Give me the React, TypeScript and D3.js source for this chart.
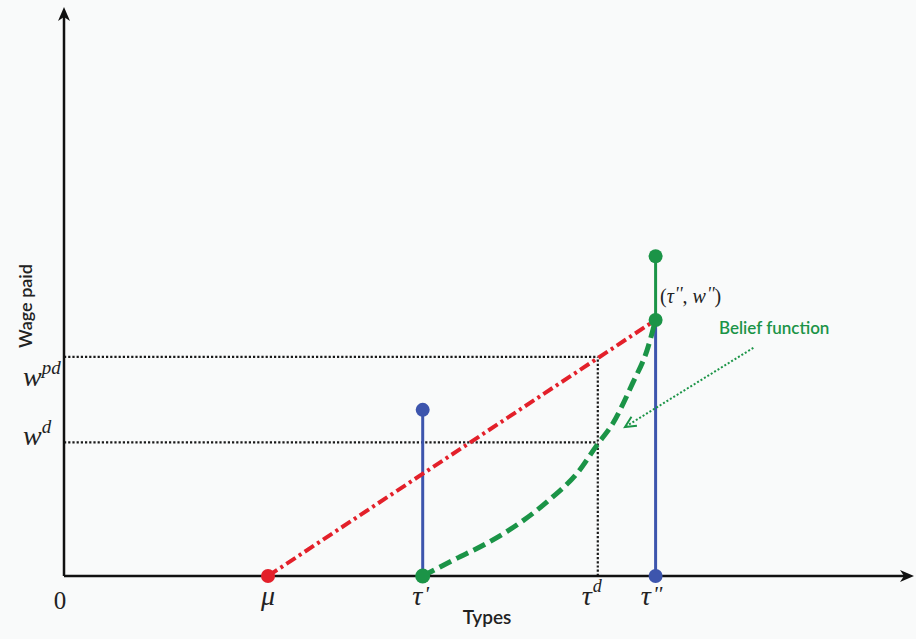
import React from "react";
import * as d3 from "d3";

const W = 916;
const H = 639;

// Data (in chart units: x 0–100 "Types", y 0–100 "Wage paid")
const mu = 24.0;
const tauPrime = 42.2;
const tauD = 62.8;
const tauPP = 69.6;
const wPP = 45.0;
const greenTop = 56.2;
const blueTauPrimeTop = 29.2;
const wPD = 38.5;
const wD = 23.5;

const beliefX = [42.2, 45.8, 49.8, 53.6, 57.5, 60.4, 62.7, 64.6, 66.9, 68.6, 69.6];
const beliefY = [0, 2.8, 5.8, 9.3, 13.9, 18.1, 23.0, 26.9, 33.9, 39.7, 45.0];

const beliefArrowFrom = [81.1, 40.1];
const beliefArrowTo = [66.0, 26.2];

const RED = "#e3202a";
const GREEN = "#1b9447";
const BLUE = "#3d55ad";

export default function App() {
  const x = d3.scaleLinear().domain([0, 100]).range([64, 914]);
  const y = d3.scaleLinear().domain([0, 100]).range([576, 7]);

  const beliefLine = d3
    .line<number>()
    .x((_, i) => x(beliefX[i]))
    .y((d) => y(d))
    .curve(d3.curveMonotoneX)(beliefY) as string;

  const redLine = d3.line<[number, number]>().x((d) => x(d[0])).y((d) => y(d[1]))([
    [mu, 0],
    [tauPP, wPP],
  ]) as string;

  const serif = "'Liberation Serif', 'DejaVu Serif', serif";
  const sans = "Lato, 'Open Sans', sans-serif";

  const ax0 = x(0);
  const ay0 = y(0);

  const fx = x(beliefArrowFrom[0]);
  const fy = y(beliefArrowFrom[1]);
  const tx = x(beliefArrowTo[0]);
  const ty = y(beliefArrowTo[1]);
  const ang = Math.atan2(ty - fy, tx - fx);
  const hl = 12;
  const hw = 0.45;
  const h1 = [tx - hl * Math.cos(ang - hw), ty - hl * Math.sin(ang - hw)];
  const h2 = [tx - hl * Math.cos(ang + hw), ty - hl * Math.sin(ang + hw)];

  const tickLabels = [
    { v: mu, main: "μ", sup: "", dx: 0 },
    { v: tauPrime, main: "τ", sup: "'", dx: -2 },
    { v: tauD, main: "τ", sup: "d", dx: -6 },
    { v: tauPP, main: "τ", sup: "''", dx: -4 },
  ];

  const dotted = { stroke: "#1a1a1a", strokeWidth: 2.2, strokeDasharray: "2.2,2" };

  return (
    <svg
      width={W}
      height={H}
      style={{ position: "absolute", left: 0, top: 0, background: "#f9fafa" }}
    >
      <rect x={0} y={0} width={W} height={H} fill="#f9fafa" />

      {/* dotted guides */}
      <line x1={ax0} y1={y(wPD)} x2={x(tauD)} y2={y(wPD)} {...dotted} />
      <line x1={ax0} y1={y(wD)} x2={x(tauD)} y2={y(wD)} {...dotted} />
      <line x1={x(tauD)} y1={ay0} x2={x(tauD)} y2={y(wPD)} {...dotted} />

      {/* blue stems */}
      <line x1={x(tauPrime)} y1={ay0} x2={x(tauPrime)} y2={y(blueTauPrimeTop)} stroke={BLUE} strokeWidth={3} />
      <line x1={x(tauPP)} y1={ay0} x2={x(tauPP)} y2={y(wPP)} stroke={BLUE} strokeWidth={3} />
      {/* green stem */}
      <line x1={x(tauPP)} y1={y(wPP)} x2={x(tauPP)} y2={y(greenTop)} stroke={GREEN} strokeWidth={3} />

      {/* red dash-dot line */}
      <path d={redLine} fill="none" stroke={RED} strokeWidth={4} strokeDasharray="11,4,3,4" />

      {/* belief function */}
      <path d={beliefLine} fill="none" stroke={GREEN} strokeWidth={5} strokeDasharray="13,6" />

      {/* belief pointer */}
      <line x1={fx} y1={fy} x2={tx} y2={ty} stroke={GREEN} strokeWidth={2} strokeDasharray="2,2" />
      <polyline
        points={`${h1[0]},${h1[1]} ${tx},${ty} ${h2[0]},${h2[1]}`}
        fill="none"
        stroke={GREEN}
        strokeWidth={2}
      />

      {/* axes */}
      <line x1={ax0} y1={ay0} x2={x(99.2)} y2={ay0} stroke="#111" strokeWidth={2.5} />
      <line x1={ax0} y1={ay0} x2={ax0} y2={y(98.5)} stroke="#111" strokeWidth={2.5} />
      <path d={`M${x(100)},${ay0} L${x(100) - 14},${ay0 - 6} L${x(100) - 10},${ay0} L${x(100) - 14},${ay0 + 6} Z`} fill="#111" />
      <path d={`M${ax0},${y(100)} L${ax0 - 6},${y(100) + 14} L${ax0},${y(100) + 10} L${ax0 + 6},${y(100) + 14} Z`} fill="#111" />

      {/* dots */}
      <circle cx={x(mu)} cy={ay0} r={7} fill={RED} />
      <circle cx={x(tauPrime)} cy={y(blueTauPrimeTop)} r={7} fill={BLUE} />
      <circle cx={x(tauPrime)} cy={ay0} r={7.5} fill={GREEN} />
      <circle cx={x(tauPP)} cy={ay0} r={7} fill={BLUE} />
      <circle cx={x(tauPP)} cy={y(wPP)} r={7} fill={GREEN} />
      <circle cx={x(tauPP)} cy={y(greenTop)} r={7} fill={GREEN} />

      {/* origin */}
      <text x={ax0 - 4} y={609} fontFamily={serif} fontSize={25} textAnchor="middle" fill="#222">0</text>

      {/* x tick labels */}
      {tickLabels.map((t, i) => (
        <text key={i} x={x(t.v) + t.dx} y={605} fontFamily={serif} fontStyle="italic" fontSize={28} textAnchor="middle" fill="#222">
          {t.main}
          {t.sup && (
            <tspan fontSize={t.sup === "d" ? 18 : 22} dy={t.sup === "d" ? -13 : -4} dx={t.sup === "d" ? 1 : 2}>
              {t.sup}
            </tspan>
          )}
        </text>
      ))}

      {/* y labels */}
      <text x={23} y={386} fontFamily={serif} fontStyle="italic" fontSize={28} fill="#222">
        w<tspan fontSize={19} dy={-12}>pd</tspan>
      </text>
      <text x={23} y={445} fontFamily={serif} fontStyle="italic" fontSize={28} fill="#222">
        w<tspan fontSize={19} dy={-12}>d</tspan>
      </text>

      {/* point label */}
      <text x={660} y={303} fontFamily={serif} fontSize={20} fill="#222">
        (<tspan fontStyle="italic">τ</tspan>
        <tspan fontStyle="italic" fontSize={18} dy={-3} dx={1}>''</tspan>
        <tspan dy={3}>, </tspan>
        <tspan fontStyle="italic">w</tspan>
        <tspan fontStyle="italic" fontSize={18} dy={-3} dx={1}>''</tspan>
        <tspan dy={3}>)</tspan>
      </text>

      <text x={719} y={334} fontFamily={sans} fontWeight={600} fontSize={17} fill={GREEN}>
        Belief function
      </text>

      {/* axis titles */}
      <text x={487} y={624} fontFamily={sans} fontWeight={600} fontSize={19} textAnchor="middle" fill="#222">
        Types
      </text>
      <text
        transform={`translate(32,306) rotate(-90)`}
        fontFamily={sans}
        fontWeight={600}
        fontSize={18}
        textAnchor="middle"
        fill="#222"
      >
        Wage paid
      </text>
    </svg>
  );
}
